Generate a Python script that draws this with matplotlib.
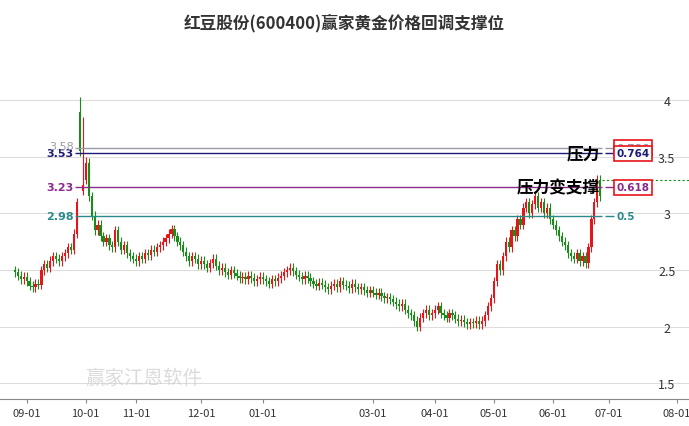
import matplotlib
matplotlib.use("Agg")
import matplotlib.pyplot as plt
import pandas as pd
import numpy as np

plt.rcParams['font.family'] = ['Noto Sans CJK SC', 'DejaVu Sans']

closes = [2.48,2.45,2.42,2.44,
 2.40,2.36,2.35,2.38,2.37,2.50,2.55,2.52,2.58,2.62,2.60,2.58,2.62,2.65,2.70,2.68,2.82,3.10,3.55,3.25,
 3.45,3.15,2.98,2.85,2.90,2.80,2.75,2.78,2.72,2.70,2.85,2.75,2.68,2.72,2.65,2.62,2.60,
 2.58,2.62,2.60,2.65,2.63,2.68,2.66,2.70,2.72,2.75,2.78,2.82,2.86,2.80,2.75,2.72,2.66,2.62,2.58,2.62,2.60,2.55,
 2.58,2.55,2.52,2.56,2.60,2.54,2.50,2.52,2.48,2.46,2.50,2.47,2.45,2.43,2.44,2.42,2.45,2.43,2.40,2.42,2.44,
 2.42,2.40,2.38,2.42,2.40,2.43,2.45,2.48,2.50,2.52,2.49,2.46,2.44,2.42,2.45,2.43,2.40,2.38,2.36,2.39,2.37,2.35,
 2.33,2.36,2.38,2.35,2.40,2.37,2.36,2.34,2.38,2.35,2.33,2.35,2.32,2.30,2.32,
 2.30,2.28,2.30,2.27,2.25,2.26,2.24,2.22,2.20,2.18,2.20,2.15,2.12,2.10,2.05,2.00,2.08,2.12,2.15,2.10,2.12,
 2.15,2.18,2.12,2.10,2.08,2.12,2.10,2.07,2.05,2.06,2.04,2.02,2.04,2.03,2.05,2.02,2.05,2.10,2.18,2.25,
 2.40,2.55,2.50,2.62,2.75,2.70,2.85,2.80,2.95,2.90,3.05,3.10,3.00,3.08,3.15,3.05,3.10,3.00,3.05,2.95,
 2.90,2.85,2.80,2.75,2.72,2.65,2.62,2.60,2.65,2.58,2.62,2.56,2.70,2.95,3.10,3.30,3.15]
opens_override = {22: 3.90, 23: 3.20, 24: 3.30}
first_open = 2.50
highs_override = {22: 4.03, 23: 3.85, 24: 3.50}
wick = 0.04

fib_ratio = ["0.786", "0.764", "0.618", "0.5"]
fib_price = [3.58, 3.53, 3.23, 2.98]
fib_color = ["#9a9aa8", "#1c1c78", "#8a2a8a", "#2a8a8a"]
xtick_months = ["2023-09","2023-10","2023-11","2023-12","2024-01","2024-03",
                "2024-04","2024-05","2024-06","2024-07","2024-08"]

holidays = pd.to_datetime(["2023-09-29","2023-10-02","2023-10-03","2023-10-04","2023-10-05","2023-10-06",
    "2024-01-01","2024-02-09","2024-02-12","2024-02-13","2024-02-14","2024-02-15","2024-02-16",
    "2024-04-04","2024-04-05","2024-05-01","2024-05-02","2024-05-03","2024-06-10"])
days = pd.bdate_range("2023-08-28", "2024-08-10")
days = days[~days.isin(holidays)]
idx = np.arange(len(closes))

fig = plt.figure(figsize=(6.89, 4.27), dpi=100)
ax = fig.add_axes([0, 0.063, 1, 0.843])
opens = [first_open] + closes[:-1]
for i, o in opens_override.items():
    opens[i] = o
for i, (o, c) in enumerate(zip(opens, closes)):
    col = "#e8141b" if c >= o else "#1a8c1a"
    hi = highs_override.get(i, max(o, c) + wick)
    lo = min(o, c) - wick
    ax.vlines(i, lo, hi, color=col, lw=0.8)
    ax.bar(i, max(abs(c - o), 0.008), bottom=min(o, c), width=0.75, color=col)

xs = 20.5
xe = len(closes) - 0.5
for r, p, c in zip(fib_ratio, fib_price, fib_color):
    ax.hlines(p, xs, xe, color=c, lw=1)
    if r != "0.786":
        ax.text(xs - 0.5, p, f"{p:.2f}", color=c, ha="right", va="center", fontsize=8,
                fontweight="bold", family="DejaVu Sans")
    ax.hlines(p, xe + 1, xe + 4, color=c, lw=1)
    box = dict(boxstyle="square,pad=0.25", fc="white", ec="#e8141b", lw=1.2) if r != "0.5" else None
    ax.text(xe + 5, p, r, color=c, ha="left", va="center", fontsize=7.5, fontweight="bold",
            family="DejaVu Sans", bbox=box)
ax.text(xs - 0.5, 3.60, "3.58", color=fib_color[0], ha="right", va="center", fontsize=8, family="DejaVu Sans")
ax.text(xe - 0.5, 3.53, "压力", ha="right", va="center", fontsize=12, fontweight="bold")
ax.text(xe - 0.5, 3.23, "压力变支撑", ha="right", va="center", fontsize=12, fontweight="bold")
ax.hlines(closes[-1] + 0.15, xe, 240, color="#1a8c1a", lw=0.8, linestyles=(0, (2, 2)))

tick_pos = [int(np.argmax(days.strftime("%Y-%m") == m)) for m in xtick_months]
ax.set_xlim(-5, 228)
ax.set_ylim(1.36, 4.54)
ax.set_yticks([1.5, 2, 2.5, 3, 3.5, 4])
ax.set_yticklabels(["1.5", "2", "2.5", "3", "3.5", "4"])
ax.yaxis.tick_right()
ax.tick_params(axis="y", direction="in", pad=-16, length=0, labelsize=9, labelcolor="#333333")
for lab in ax.get_yticklabels():
    lab.set_horizontalalignment("center")
ax.set_xticks(tick_pos)
ax.set_xticklabels([m[5:7] + "-01" for m in xtick_months], fontsize=8, color="#333333")
ax.tick_params(axis="x", length=3, color="#888888")
ax.grid(axis="y", color="#dddddd", lw=0.8)
ax.set_axisbelow(True)
for s in ["top", "left", "right"]:
    ax.spines[s].set_visible(False)
ax.spines["bottom"].set_color("#888888")
ax.text(24, 1.55, "赢家江恩软件", fontsize=14, color="#cccccc", alpha=0.7, va="center")
fig.text(0.5, 0.945, "红豆股份(600400)赢家黄金价格回调支撑位", ha="center", va="center",
         fontsize=12, fontweight="bold", color="#333333")
fig.savefig("out.png", dpi=100)
